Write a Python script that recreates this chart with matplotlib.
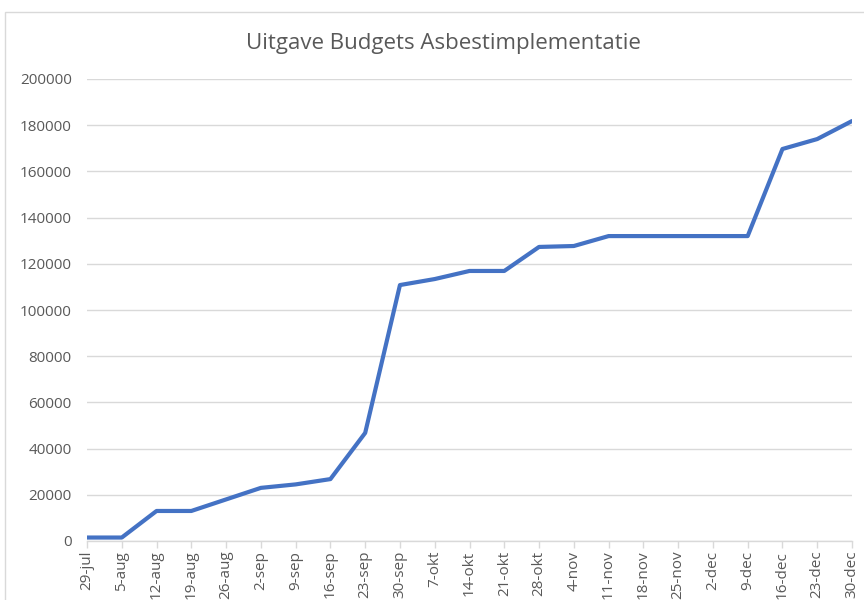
import matplotlib.pyplot as plt
from matplotlib.patches import Rectangle

# categorieen (weken) en cumulatieve uitgaven
weken = ['29-jul', '5-aug', '12-aug', '19-aug', '26-aug', '2-sep', '9-sep',
         '16-sep', '23-sep', '30-sep', '7-okt', '14-okt', '21-okt', '28-okt',
         '4-nov', '11-nov', '18-nov', '25-nov', '2-dec', '9-dec', '16-dec',
         '23-dec', '30-dec']
uitgaven = [1500, 1500, 13000, 13000, 18000, 23000, 24500, 26800, 46800,
            110800, 113400, 116900, 116900, 127300, 127700, 132000, 132000,
            132000, 132000, 132000, 169700, 174000, 181800]
y_ticks = [0, 20000, 40000, 60000, 80000, 100000, 120000, 140000, 160000,
           180000, 200000]

plt.rcParams['font.family'] = ['Open Sans', 'DejaVu Sans']

fig = plt.figure(figsize=(8.64, 6), dpi=100)
W, H = 864, 600
ax = fig.add_axes([87 / W, 59 / H, (852 - 87) / W, (541 - 79) / H])

# rand van het grafiekgebied
fig.patches.append(Rectangle((5 / W, -0.1), 1.2, (600 - 12) / H + 0.1,
                             transform=fig.transFigure, fill=False,
                             edgecolor='#d9d9d9', linewidth=1))

x = list(range(len(weken)))
ax.plot(x, uitgaven, color='#4472C4', linewidth=3, solid_joinstyle='round',
        solid_capstyle='round', zorder=3)

ax.set_xlim(0, len(weken) - 1)
ax.set_ylim(0, 200000)
ax.set_yticks(y_ticks)
ax.set_yticklabels([str(v) for v in y_ticks])
ax.set_xticks(x)
ax.set_xticklabels(weken, rotation=90)

ax.grid(axis='y', color='#d9d9d9', linewidth=1)
ax.set_axisbelow(True)
for s in ['top', 'right', 'left']:
    ax.spines[s].set_visible(False)
ax.spines['bottom'].set_color('#d9d9d9')
ax.spines['bottom'].set_linewidth(1)
ax.spines['bottom'].set_clip_on(False)

ax.tick_params(axis='y', length=0, pad=11, labelsize=11, labelcolor='#595959')
ax.tick_params(axis='x', length=5, width=1, color='#d9d9d9', pad=2,
               labelsize=11, labelcolor='#595959')

fig.text(443 / W, 1 - 43 / H, 'Uitgave Budgets Asbestimplementatie',
         ha='center', va='center', fontsize=16, color='#595959')

fig.savefig('out.png', dpi=100)
